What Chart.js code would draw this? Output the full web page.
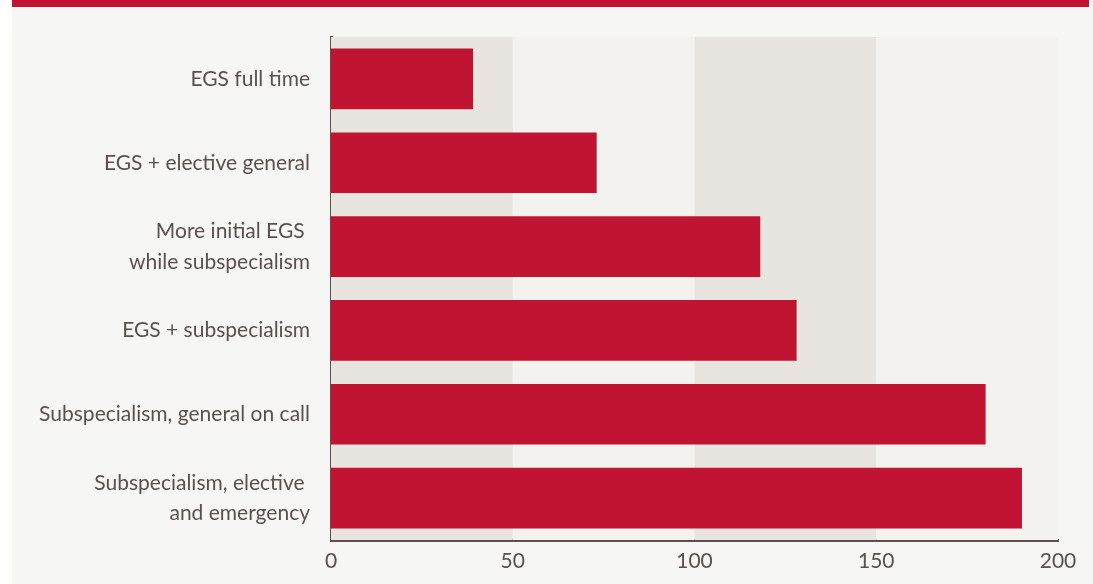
<!DOCTYPE html>
<html>
<head>
<meta charset="utf-8">
<script src="https://cdn.jsdelivr.net/npm/chart.js@4.4.1/dist/chart.umd.min.js"></script>
<style>
  html, body { margin: 0; padding: 0; background: #f6f6f4; }
  body { width: 1093px; height: 584px; position: relative; overflow: hidden; }
  #strip { position: absolute; left: 0; top: 0; width: 12px; height: 584px; background: #ffffff; }
  #band { position: absolute; left: 12px; top: 0; width: 1077px; height: 7px; background: #c01432; }
  #wrap { position: absolute; left: 0; top: 0; width: 1093px; height: 584px; }
</style>
</head>
<body>
<div id="strip"></div>
<div id="band"></div>
<div id="wrap"><canvas id="chart"></canvas></div>
<script>
const categories = [
  'EGS full time',
  'EGS + elective general',
  ['More initial EGS ', 'while subspecialism'],
  'EGS + subspecialism',
  'Subspecialism, general on call',
  ['Subspecialism, elective ', 'and emergency']
];
const values = [39, 73, 118, 128, 180, 190];
const xTicks = [0, 50, 100, 150, 200];

const ink = '#5b504d';

// alternating vertical bands behind the bars, one per tick interval
const bandPlugin = {
  id: 'bands',
  beforeDatasetsDraw(chart) {
    const { ctx, chartArea, scales } = chart;
    ctx.save();
    for (let i = 0; i < xTicks.length - 1; i++) {
      const x0 = scales.x.getPixelForValue(xTicks[i]);
      const x1 = scales.x.getPixelForValue(xTicks[i + 1]);
      ctx.fillStyle = i % 2 === 0 ? '#e8e5e0' : '#f3f2ef';
      ctx.fillRect(x0, chartArea.top, x1 - x0, chartArea.bottom - chartArea.top);
    }
    ctx.restore();
  }
};

new Chart(document.getElementById('chart'), {
  type: 'bar',
  data: {
    labels: categories,
    datasets: [{
      data: values,
      backgroundColor: '#c01432',
      borderWidth: 0,
      barThickness: 60
    }]
  },
  plugins: [bandPlugin],
  options: {
    indexAxis: 'y',
    responsive: true,
    maintainAspectRatio: false,
    animation: false,
    layout: { padding: { top: 37, right: 35, bottom: 0, left: 0 } },
    plugins: {
      legend: { display: false },
      tooltip: { enabled: false }
    },
    scales: {
      x: {
        min: 0,
        max: 200,
        afterBuildTicks: (s) => { s.ticks = xTicks.map(v => ({ value: v })); },
        afterFit: (s) => { s.height = 44; },
        grid: { display: false, drawTicks: false },
        border: { display: true, color: ink, width: 3 },
        ticks: {
          color: ink,
          padding: 9,
          font: { family: 'Lato', size: 21 }
        }
      },
      y: {
        afterFit: (s) => { s.width = 331; s.paddingTop = 0; s.paddingBottom = 0; },
        grid: { display: false, drawTicks: false },
        border: { display: true, color: ink, width: 3 },
        ticks: {
          color: ink,
          padding: 21,
          font: { family: 'Lato', size: 21, lineHeight: 1.45 }
        }
      }
    }
  }
});
</script>
</body>
</html>
